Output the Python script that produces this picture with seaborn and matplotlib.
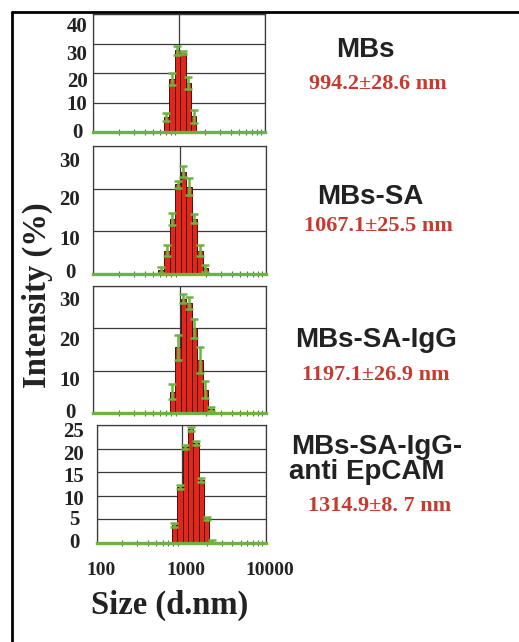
import numpy as np
import pandas as pd
import matplotlib
matplotlib.use("Agg")
import matplotlib.pyplot as plt
import seaborn as sns
from matplotlib.lines import Line2D

sns.set_theme(style="white")
plt.rcParams['font.family'] = ['Liberation Serif', 'DejaVu Serif']

# DLS size bins (nm) and intensities (%)
sizes_mbs = [712.4, 825.0, 955.4, 1106, 1281, 1484]
int_mbs = [5.1, 17.9, 27.7, 26.8, 16.5, 5.4]
err_mbs = [1.4, 2.0, 1.6, 0.5, 2.0, 2.2]

sizes_sa = [615.1, 712.4, 825.0, 955.4, 1106, 1281, 1484, 1718, 1990]
int_sa = [1.0, 5.5, 13.0, 21.0, 24.0, 20.5, 13.0, 5.5, 1.3]
err_sa = [0.7, 1.3, 1.4, 0.8, 1.2, 2.0, 1.0, 1.2, 0.8]

sizes_igg = [825.0, 955.4, 1106, 1281, 1484, 1718, 1990, 2305]
int_igg = [5.0, 15.5, 27.0, 26.0, 20.0, 12.5, 5.5, 1.0]
err_igg = [1.8, 3.0, 1.0, 1.5, 2.3, 3.0, 2.0, 0.5]

sizes_ep = [825.0, 955.4, 1106, 1281, 1484, 1718, 1990, 2305]
int_ep = [3.8, 11.8, 20.3, 24.1, 21.2, 13.3, 5.2, 0.3]
err_ep = [0.4, 0.4, 0.4, 0.4, 0.5, 0.4, 0.4, 0.3]

names = ["MBs", "MBs-SA", "MBs-SA-IgG", "MBs-SA-IgG-", "anti EpCAM"]
sizes_txt = ["994.2\u00b128.6 nm", "1067.1\u00b125.5 nm", "1197.1\u00b126.9 nm", "1314.9\u00b18. 7 nm"]
ymax = [40, 30, 30, 25]
ystep = [10, 10, 10, 5]
xticks = [100, 1000, 10000]
xtick_labels = ["100", "1000", "10000"]

panels = [(sizes_mbs, int_mbs, err_mbs), (sizes_sa, int_sa, err_sa),
          (sizes_igg, int_igg, err_igg), (sizes_ep, int_ep, err_ep)]

W, H = 519, 642
fig = plt.figure(figsize=(W / 100, H / 100), dpi=100)

# axes boxes in pixels: left, right, top, bottom
boxes = [(93, 265, 14, 132), (93, 266, 146, 274), (93, 266, 286, 413), (97, 266, 425, 543)]
# the y labels in the original sit a bit below their grid lines (pixels)
label_shift = [[1, 3, 9, 12, 13], [-1, 9, 11, 16], [0, 10, 13, 15], [0, 1, 4, 5, 6, 7]]
label_x = [77, 70, 70, 74]

red = "#e1261c"
green = "#6db33f"
grid = "#3a3a3a"
step = np.log10(1.1583)

for i, (sz, val, err) in enumerate(panels):
    l, r, t, b = boxes[i]
    ax = fig.add_axes([l / W, 1 - b / H, (r - l) / W, (b - t) / H])
    df = pd.DataFrame({"size": sz, "intensity": val})
    logc = np.log10(sz)
    edges = np.append(logc - step / 2, logc[-1] + step / 2).tolist()
    sns.histplot(data=df, x="size", weights="intensity", bins=edges, log_scale=True, ax=ax,
                 color=red, alpha=1, edgecolor="#4a1208", linewidth=0.7)
    ax.errorbar(sz, val, yerr=err, fmt="none", ecolor=green, elinewidth=1.8,
                capsize=3.2, capthick=1.8, zorder=4)
    ax.set_xlim(100, 10000)
    ax.set_ylim(0, ymax[i])
    yt = np.arange(0, ymax[i] + 1, ystep[i])
    ax.set_yticks(yt)
    ax.set_yticklabels([])
    for v, sh in zip(yt, label_shift[i]):
        ax.annotate(str(v), xy=(0, v), xycoords=("axes fraction", "data"),
                    xytext=((label_x[i] - l) * 0.72, -sh * 0.72), textcoords="offset points",
                    ha="center", va="center", fontsize=15, fontweight="bold",
                    color="#222222", annotation_clip=False)
    ax.set_xticks(xticks)
    ax.set_xticklabels([])
    ax.grid(True, which="major", color=grid, linewidth=0.9)
    ax.set_axisbelow(True)
    ax.set_ylabel("")
    ax.set_xlabel("")
    for s in ["left", "right", "top"]:
        ax.spines[s].set_color(grid)
        ax.spines[s].set_linewidth(0.9)
    ax.spines["bottom"].set_color(green)
    ax.spines["bottom"].set_linewidth(2.4)
    ax.spines["bottom"].set_zorder(5)
    ax.tick_params(axis="y", length=0)
    ax.tick_params(axis="x", which="major", length=0)
    ax.tick_params(axis="x", which="minor", bottom=True, direction="inout",
                   length=5, width=0.8, color="#5a6a50")
    if i == 3:
        for v, s in zip(xticks, xtick_labels):
            ax.annotate(s, xy=(v, 0), xycoords=("data", "axes fraction"),
                        xytext=(3, -20), textcoords="offset points",
                        ha="center", va="center", fontsize=14, fontweight="bold",
                        color="#222222", annotation_clip=False)

fig.text(37 / W, 1 - 295 / H, "Intensity (%)", rotation=90, ha="center", va="center",
         fontsize=23.5, fontweight="bold", color="#222222")
fig.text(170 / W, 1 - 605 / H, "Size (d.nm)", ha="center", va="center",
         fontsize=23.5, fontweight="bold", color="#222222")

sans = ['Liberation Sans', 'DejaVu Sans']
txt_red = "#c8392e"
name_pos = [(365, 50, "center"), (370, 197, "center"), (376, 340, "center"),
            (291, 447, "left"), (289, 472, "left")]
for (x, y, ha), s in zip(name_pos, names):
    fig.text(x / W, 1 - y / H, s, ha=ha, va="center", family=sans,
             fontsize=20, fontweight="bold", color="#222222")

for (x, y), s in zip([(378, 84), (378, 226), (376, 375), (380, 506)], sizes_txt):
    fig.text(x / W, 1 - y / H, s, ha="center", va="center", fontsize=16,
             fontweight="bold", color=txt_red)

# outer frame (left and top edges)
fig.add_artist(Line2D([12 / W, 12 / W], [0, 1 - 12 / H], color="black", lw=2))
fig.add_artist(Line2D([12 / W, 1], [1 - 12 / H, 1 - 12 / H], color="black", lw=2))

fig.savefig("out.png", dpi=100)
